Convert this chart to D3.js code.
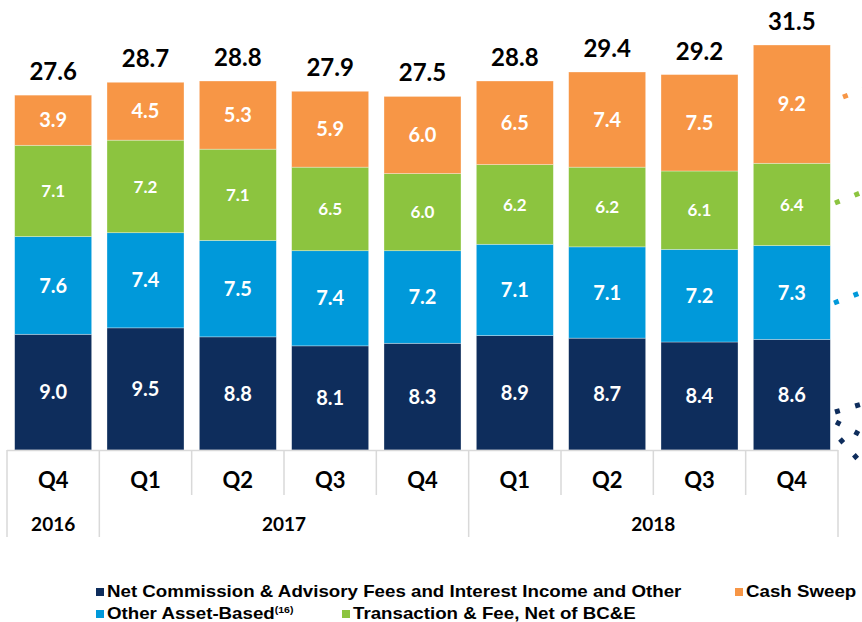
<!DOCTYPE html>
<html>
<head>
<meta charset="utf-8">
<script src="https://cdn.jsdelivr.net/npm/d3@7"></script>
<style>
  body { margin: 0; background: #fff; }
  svg { display: block; }
</style>
</head>
<body>
<svg id="chart" width="862" height="622"></svg>
<script>
// données
const quarters = ["Q4", "Q1", "Q2", "Q3", "Q4", "Q1", "Q2", "Q3", "Q4"];
const years = [
  { label: "2016", first: 0, last: 0 },
  { label: "2017", first: 1, last: 4 },
  { label: "2018", first: 5, last: 8 }
];
const netCommission = [9.0, 9.5, 8.8, 8.1, 8.3, 8.9, 8.7, 8.4, 8.6];
const otherAsset = [7.6, 7.4, 7.5, 7.4, 7.2, 7.1, 7.1, 7.2, 7.3];
const transaction = [7.1, 7.2, 7.1, 6.5, 6.0, 6.2, 6.2, 6.1, 6.4];
const cashSweep = [3.9, 4.5, 5.3, 5.9, 6.0, 6.5, 7.4, 7.5, 9.2];
const totals = [27.6, 28.7, 28.8, 27.9, 27.5, 28.8, 29.4, 29.2, 31.5];

const series = [
  { name: "Net Commission & Advisory Fees and Interest Income and Other", values: netCommission, color: "#0e2d5c", size: 20 },
  { name: "Other Asset-Based", values: otherAsset, color: "#0099da", size: 20 },
  { name: "Transaction & Fee, Net of BC&E", values: transaction, color: "#8cc43f", size: 17 },
  { name: "Cash Sweep", values: cashSweep, color: "#f79646", size: 20 }
];

const svg = d3.select("#chart");
const baseY = 450;

const x = d3.scaleBand()
  .domain(d3.range(quarters.length))
  .range([7, 838])
  .paddingInner(0.166)
  .paddingOuter(0.083);

const y = d3.scaleLinear().domain([0, 35]).range([baseY, 0]);

// empilement
const table = quarters.map((q, i) => {
  const row = { i: i };
  series.forEach((s, k) => row["s" + k] = s.values[i]);
  return row;
});
const stack = d3.stack().keys(series.map((s, k) => "s" + k))(table);

// décor : pointillés à droite
const deco = [
  { color: "#f79646", x1: 843, y1: 97, x2: 870, y2: 87 },
  { color: "#8cc43f", x1: 835, y1: 203, x2: 870, y2: 189 },
  { color: "#0099da", x1: 834, y1: 303, x2: 870, y2: 289 },
  { color: "#0e2d5c", x1: 835, y1: 412, x2: 872, y2: 401 },
  { color: "#0e2d5c", x1: 836, y1: 422, x2: 872, y2: 441 },
  { color: "#0e2d5c", x1: 840, y1: 439, x2: 870, y2: 473 }
];
svg.append("g").selectAll("line")
  .data(deco)
  .join("line")
  .attr("x1", d => d.x1).attr("y1", d => d.y1)
  .attr("x2", d => d.x2).attr("y2", d => d.y2)
  .attr("stroke", d => d.color)
  .attr("stroke-width", 5)
  .attr("stroke-dasharray", "5 16");

// barres
const layers = svg.append("g").selectAll("g")
  .data(stack)
  .join("g")
  .attr("fill", (d, k) => series[k].color);

layers.selectAll("rect")
  .data(d => d)
  .join("rect")
  .attr("x", d => x(d.data.i))
  .attr("y", d => y(d[1]))
  .attr("width", x.bandwidth())
  .attr("height", d => y(d[0]) - y(d[1]))
  .attr("stroke", "#ffffff")
  .attr("stroke-opacity", 0.45)
  .attr("stroke-width", 0.7);

// étiquettes des segments
layers.each(function (layer, k) {
  d3.select(this).selectAll("text")
    .data(layer)
    .join("text")
    .attr("x", d => x(d.data.i) + x.bandwidth() / 2)
    .attr("y", d => (y(d[0]) + y(d[1])) / 2)
    .attr("dy", "0.36em")
    .attr("text-anchor", "middle")
    .attr("font-family", "Lato, sans-serif")
    .attr("font-weight", "bold")
    .attr("font-size", series[k].size)
    .attr("fill", "#ffffff")
    .text(d => d3.format(".1f")(series[k].values[d.data.i]));
});

// totaux
svg.append("g").selectAll("text")
  .data(totals)
  .join("text")
  .attr("x", (d, i) => x(i) + x.bandwidth() / 2)
  .attr("y", (d, i) => y(stack[stack.length - 1][i][1]) - 15)
  .attr("text-anchor", "middle")
  .attr("font-family", "Lato, sans-serif")
  .attr("font-weight", "bold")
  .attr("font-size", 24)
  .attr("fill", "#000")
  .text(d => d3.format(".1f")(d));

// tableau des catégories
const grid = svg.append("g")
  .attr("stroke", "#d9d9d9")
  .attr("stroke-width", 1.5);
const left = x.range()[0], right = x.range()[1], step = x.step();

grid.append("line")
  .attr("x1", left).attr("x2", right)
  .attr("y1", baseY + 0.5).attr("y2", baseY + 0.5);

const yearBounds = new Set();
years.forEach(yr => { yearBounds.add(yr.first); yearBounds.add(yr.last + 1); });
d3.range(quarters.length + 1).forEach(j => {
  const xx = left + j * step;
  grid.append("line")
    .attr("x1", xx).attr("x2", xx)
    .attr("y1", baseY).attr("y2", yearBounds.has(j) ? 537 : 495);
});

svg.append("g").selectAll("text")
  .data(quarters)
  .join("text")
  .attr("x", (d, i) => x(i) + x.bandwidth() / 2)
  .attr("y", 488)
  .attr("text-anchor", "middle")
  .attr("font-family", "Lato, sans-serif")
  .attr("font-weight", "bold")
  .attr("font-size", 22)
  .attr("fill", "#000")
  .text(d => d);

svg.append("g").selectAll("text")
  .data(years)
  .join("text")
  .attr("x", d => left + (d.first + d.last + 1) / 2 * step)
  .attr("y", 531)
  .attr("text-anchor", "middle")
  .attr("font-family", "Lato, sans-serif")
  .attr("font-weight", "bold")
  .attr("font-size", 19)
  .attr("fill", "#000")
  .text(d => d.label);

// légende (texte étiré horizontalement comme sur l'original)
const legend = [
  { s: series[0], x: 96, y: 597 },
  { s: series[3], x: 735, y: 597 },
  { s: series[1], x: 96, y: 619, sup: "(16)" },
  { s: series[2], x: 342, y: 619 }
];
const lg = svg.append("g")
  .attr("font-family", "'Liberation Sans', Arial, sans-serif")
  .attr("font-weight", "bold")
  .attr("font-size", 16)
  .attr("fill", "#000");
legend.forEach(d => {
  lg.append("rect")
    .attr("x", d.x).attr("y", d.y - 9)
    .attr("width", 8).attr("height", 8)
    .attr("fill", d.s.color);
  const t = lg.append("text")
    .attr("transform", `translate(${d.x + 11},${d.y}) scale(1.17,1)`)
    .text(d.s.name);
  if (d.sup) {
    t.append("tspan")
      .attr("font-size", 9)
      .attr("dy", -6)
      .text(d.sup);
  }
});
</script>
</body>
</html>
